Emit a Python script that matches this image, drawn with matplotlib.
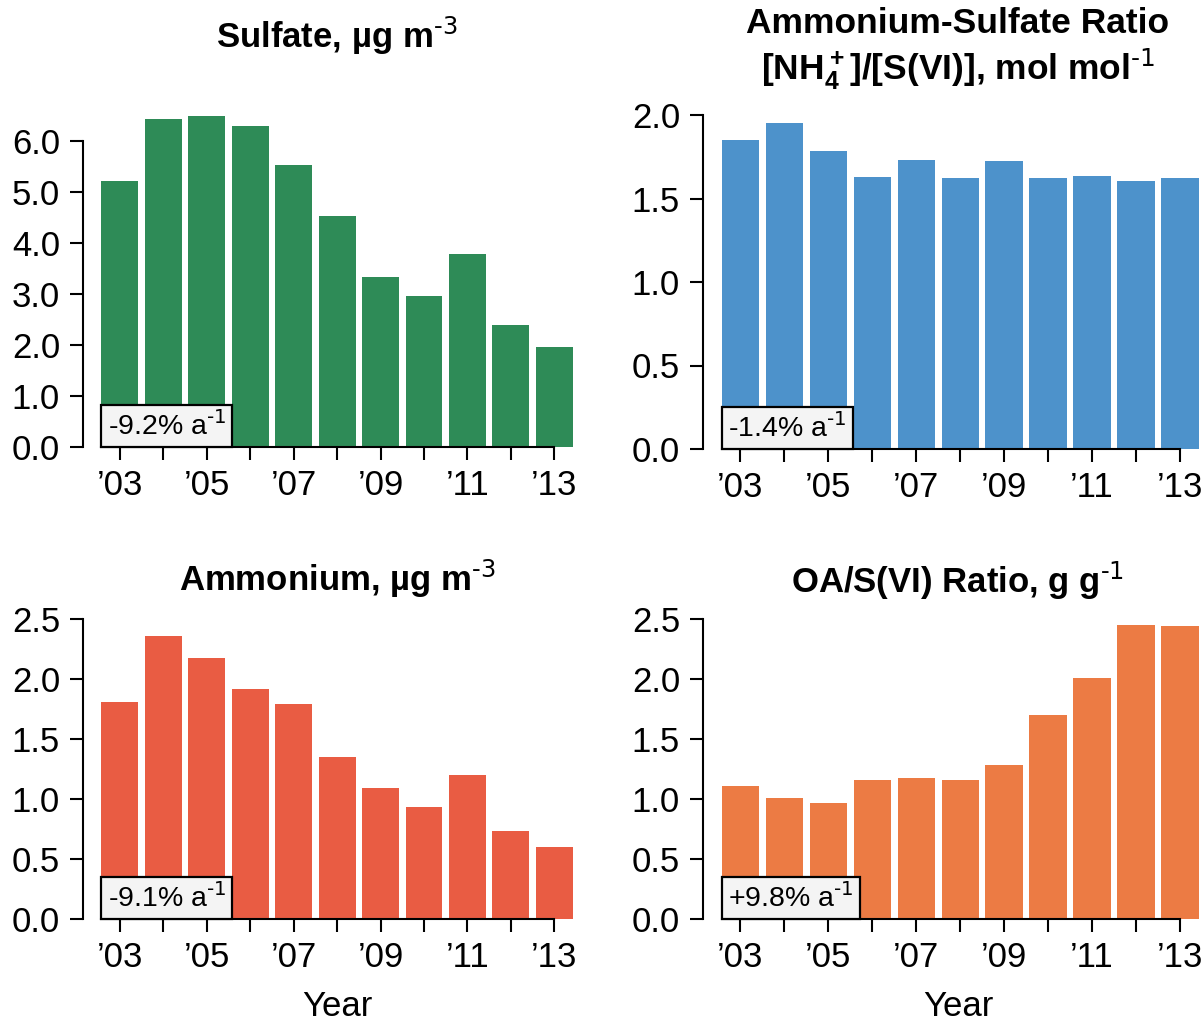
import numpy as np
import matplotlib
matplotlib.use('Agg')
import matplotlib.pyplot as plt

plt.rcParams['font.family'] = ['Liberation Sans', 'DejaVu Sans']
plt.rcParams['mathtext.default'] = 'regular'

yearLabels = ['\u201903', '', '\u201905', '', '\u201907', '', '\u201909', '', '\u201911', '', '\u201913']
sulfate = [5.20, 6.42, 6.48, 6.29, 5.52, 4.53, 3.33, 2.96, 3.78, 2.39, 1.96]
nh4SulfateRatio = [1.85, 1.955, 1.785, 1.63, 1.73, 1.62, 1.725, 1.625, 1.635, 1.605, 1.62]
ammonium = [1.81, 2.36, 2.175, 1.915, 1.79, 1.35, 1.095, 0.935, 1.20, 0.73, 0.60]
oaSulfateRatio = [1.11, 1.01, 0.97, 1.16, 1.175, 1.16, 1.285, 1.70, 2.01, 2.45, 2.44]
trends = ['-9.2%', '-1.4%', '-9.1%', '+9.8%']
titles = ['Sulfate, \u00b5g m$^{\\text{-3}}$',
          'Ammonium-Sulfate Ratio\n[NH$_4^+$]/[S(VI)], mol mol$^{\\text{-1}}$',
          'Ammonium, \u00b5g m$^{\\text{-3}}$',
          'OA/S(VI) Ratio, g g$^{\\text{-1}}$']

W, H = 1202, 1024


def px_axes(fig, x0, y0, x1, y1):
    return fig.add_axes([x0 / W, 1 - y1 / H, (x1 - x0) / W, (y1 - y0) / H])


def draw_panel(ax, values, color, yticks, ytop, trend):
    x = np.arange(len(values))
    ax.bar(x, values, 0.85, color=color, zorder=1)
    ax.set_xlim(-0.85, 10.5)
    ax.set_ylim(0, ytop)
    for s in ['top', 'right']:
        ax.spines[s].set_visible(False)
    ax.spines['left'].set_bounds(yticks[0], yticks[-1])
    ax.spines['bottom'].set_bounds(-0.425, 10)
    for s in ['left', 'bottom']:
        ax.spines[s].set_linewidth(1.5)
        ax.spines[s].set_zorder(3)
    ax.set_xticks(x)
    ax.set_xticklabels(yearLabels)
    ax.set_yticks(yticks)
    ax.set_yticklabels(['%.1f' % v for v in yticks])
    ax.tick_params(direction='out', length=9.5, width=1.5, labelsize=25)
    ax.tick_params(axis='y', pad=7)
    ax.tick_params(axis='x', pad=6)
    ax.annotate(trend + ' a$^{\\text{-1}}$', xy=(-0.425, 0), xycoords='data',
                xytext=(4.5, 4.5), textcoords='offset points', ha='left', va='bottom',
                fontsize=20.5, zorder=4,
                bbox=dict(boxstyle='square,pad=0.22', fc='#f4f4f4', ec='black', lw=1.6))


def main():
    fig = plt.figure(figsize=(W / 100, H / 100), dpi=100)

    ax1 = px_axes(fig, 83, 110, 576, 447)
    draw_panel(ax1, sulfate, '#2e8b57', [0, 1, 2, 3, 4, 5, 6], 6.6, trends[0])
    ax2 = px_axes(fig, 703, 115, 1202, 449)
    draw_panel(ax2, nh4SulfateRatio, '#4d92cb', [0, 0.5, 1.0, 1.5, 2.0], 2.0, trends[1])
    ax3 = px_axes(fig, 83, 619, 576, 919)
    draw_panel(ax3, ammonium, '#e95c43', [0, 0.5, 1.0, 1.5, 2.0, 2.5], 2.5, trends[2])
    ax4 = px_axes(fig, 703, 619, 1202, 919)
    draw_panel(ax4, oaSulfateRatio, '#ec7b44', [0, 0.5, 1.0, 1.5, 2.0, 2.5], 2.5, trends[3])

    fig.text(337 / W, 1 - 36 / H, titles[0], ha='center', va='center', fontsize=25, fontweight='bold')
    fig.text(958 / W, 1 - 49 / H, titles[1], ha='center', va='center', fontsize=25.5, fontweight='bold',
             linespacing=1.2)
    fig.text(337 / W, 1 - 579 / H, titles[2], ha='center', va='center', fontsize=25, fontweight='bold')
    fig.text(958 / W, 1 - 581 / H, titles[3], ha='center', va='center', fontsize=25, fontweight='bold')
    fig.text(337 / W, 1 - 1006 / H, 'Year', ha='center', va='center', fontsize=25)
    fig.text(958 / W, 1 - 1006 / H, 'Year', ha='center', va='center', fontsize=25)

    fig.savefig('out.png', dpi=100)


if __name__ == "__main__":
    main()
